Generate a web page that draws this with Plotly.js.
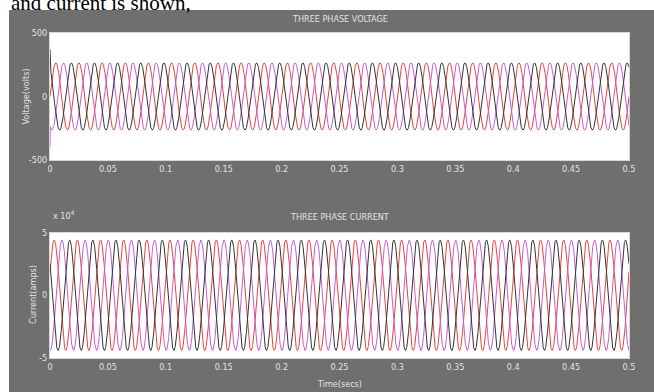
<!DOCTYPE html>
<html>
<head>
<meta charset="utf-8">
<script src="https://cdn.plot.ly/plotly-3.0.1.min.js"></script>
<style>html,body{margin:0;padding:0;background:#fff;}#chart{width:654px;height:392px;}</style>
</head>
<body>
<div id="chart"></div>
<script>
// ---- data ----
const phaseNames = ['Phase A', 'Phase B', 'Phase C'];
const phaseColors = ['#e8423c', '#c95ad6', '#333333'];
const phaseShiftDeg = [0, -120, 120];       // red peaks first, then violet, then black
const frequencyHz = [50];
const voltagePeak = [265];                  // volts
const currentPeak = [44000];                // amps
const currentShiftDeg = [25];               // current peaks slightly earlier than voltage
const voltageStartSpike = [0, -400, 370];   // start-up value at t = 0
const timeRange = [0, 0.5];
const xTickVals = [0, 0.05, 0.1, 0.15, 0.2, 0.25, 0.3, 0.35, 0.4, 0.45, 0.5];
const xTickLabels = ['0', '0.05', '0.1', '0.15', '0.2', '0.25', '0.3', '0.35', '0.4', '0.45', '0.5'];
const vTickVals = [-500, 0, 500];
const vTickLabels = ['-500', '0', '500'];
const iTickVals = [-50000, 0, 50000];
const iTickLabels = ['-5', '0', '5'];

// sampling grid
const dt = 0.0002;
const t = [];
for (let k = 0; k <= Math.round((timeRange[1] - timeRange[0]) / dt); k++) t.push(+(timeRange[0] + k * dt).toFixed(5));

const w = 2 * Math.PI * frequencyHz[0];
const traces = [];
phaseNames.forEach((name, i) => {
  const ph = phaseShiftDeg[i] * Math.PI / 180;
  const v = t.map(tt => voltagePeak[0] * Math.sin(w * tt + ph));
  if (voltageStartSpike[i] !== 0) v[0] = voltageStartSpike[i];
  traces.push({x: t, y: v, type: 'scatter', mode: 'lines', name: name,
    line: {color: phaseColors[i], width: 1}, xaxis: 'x', yaxis: 'y', showlegend: false});
});
phaseNames.forEach((name, i) => {
  const ph = (phaseShiftDeg[i] + currentShiftDeg[0]) * Math.PI / 180;
  const c = t.map(tt => currentPeak[0] * Math.sin(w * tt + ph));
  traces.push({x: t, y: c, type: 'scatter', mode: 'lines', name: name,
    line: {color: phaseColors[i], width: 1}, xaxis: 'x2', yaxis: 'y2', showlegend: false});
});

const W = 654, H = 392;
const px = v => v / W, py = v => 1 - v / H;
const font = {family: '"Liberation Sans Narrow", "Arial Narrow", "DejaVu Sans Condensed", sans-serif', size: 9, color: '#e2e2e2'};
const axCommon = {showgrid: false, zeroline: false, showline: true, mirror: true, linecolor: '#d8d8d8', linewidth: 1,
  ticks: '', tickfont: font, fixedrange: true};

const top1 = 33, bot1 = 160, top2 = 232.5, bot2 = 358, left = 50, right = 629;

const layout = {
  width: W, height: H,
  margin: {l: 0, r: 0, t: 0, b: 0},
  paper_bgcolor: '#ffffff', plot_bgcolor: '#ffffff',
  showlegend: false,
  shapes: [
    {type: 'rect', xref: 'paper', yref: 'paper', x0: px(9), x1: 1, y0: 0, y1: py(10),
      fillcolor: '#6f6f6f', line: {width: 0}, layer: 'below'},
    {type: 'rect', xref: 'paper', yref: 'paper', x0: px(left), x1: px(right), y0: py(bot1), y1: py(top1),
      fillcolor: '#ffffff', line: {width: 0}, layer: 'below'},
    {type: 'rect', xref: 'paper', yref: 'paper', x0: px(left), x1: px(right), y0: py(bot2), y1: py(top2),
      fillcolor: '#ffffff', line: {width: 0}, layer: 'below'}
  ],
  xaxis: Object.assign({}, axCommon, {domain: [px(left), px(right)], range: timeRange, anchor: 'y',
    tickvals: xTickVals, ticktext: xTickLabels}),
  yaxis: Object.assign({}, axCommon, {domain: [py(bot1), py(top1)], range: [-500, 500], anchor: 'x',
    tickvals: vTickVals, ticktext: vTickLabels}),
  xaxis2: Object.assign({}, axCommon, {domain: [px(left), px(right)], range: timeRange, anchor: 'y2',
    tickvals: xTickVals, ticktext: xTickLabels}),
  yaxis2: Object.assign({}, axCommon, {domain: [py(bot2), py(top2)], range: [-50000, 50000], anchor: 'x2',
    tickvals: iTickVals, ticktext: iTickLabels}),
  annotations: [
    {text: 'and current is shown,', xref: 'paper', yref: 'paper', x: px(9), y: py(3), xanchor: 'left', yanchor: 'middle',
      showarrow: false, font: {family: '"Liberation Serif", "Times New Roman", serif', size: 21, color: '#000'}},
    {text: 'THREE PHASE VOLTAGE', xref: 'paper', yref: 'paper', x: px(339.5), y: py(19), xanchor: 'center', yanchor: 'middle',
      showarrow: false, font: font},
    {text: 'THREE PHASE CURRENT', xref: 'paper', yref: 'paper', x: px(339.5), y: py(217), xanchor: 'center', yanchor: 'middle',
      showarrow: false, font: font},
    {text: 'x 10<sup>4</sup>', xref: 'paper', yref: 'paper', x: px(51), y: py(215), xanchor: 'left', yanchor: 'middle',
      showarrow: false, font: font},
    {text: 'Voltage(volts)', xref: 'paper', yref: 'paper', x: px(25), y: py(96.5), xanchor: 'center', yanchor: 'middle',
      textangle: -90, showarrow: false, font: font},
    {text: 'Current(amps)', xref: 'paper', yref: 'paper', x: px(33), y: py(295), xanchor: 'center', yanchor: 'middle',
      textangle: -90, showarrow: false, font: font},
    {text: 'Time(secs)', xref: 'paper', yref: 'paper', x: px(339.5), y: py(384), xanchor: 'center', yanchor: 'middle',
      showarrow: false, font: font}
  ]
};

Plotly.newPlot('chart', traces, layout, {staticPlot: true, displayModeBar: false});
</script>
</body>
</html>
